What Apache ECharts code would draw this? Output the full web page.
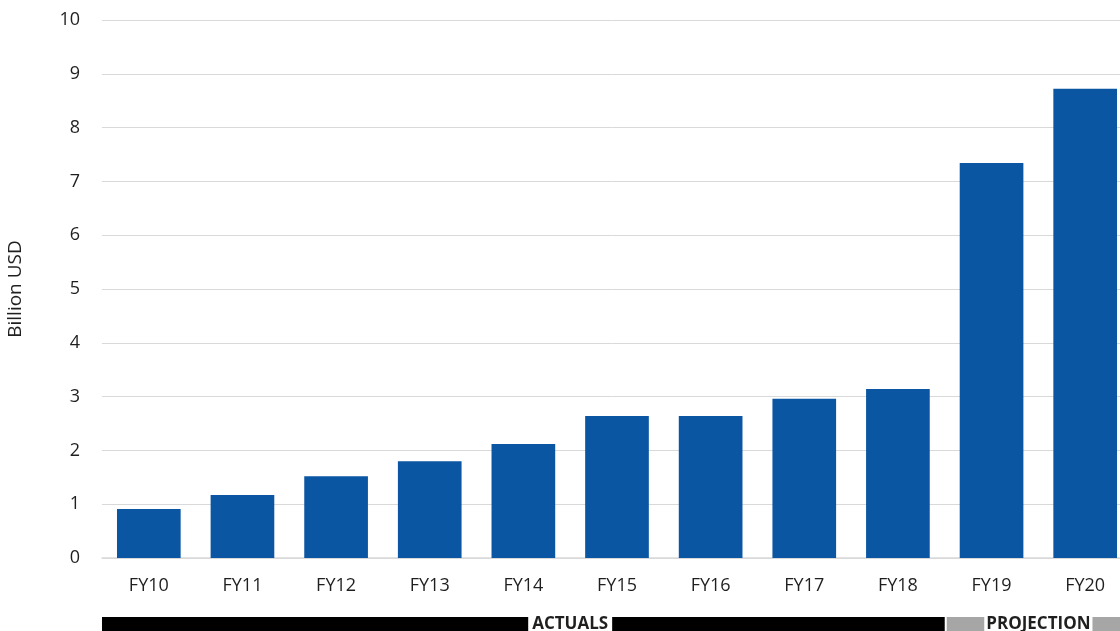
<!DOCTYPE html>
<html>
<head>
<meta charset="utf-8">
<script src="https://cdn.jsdelivr.net/npm/echarts@6/dist/echarts.min.js"></script>
<style>
  html, body { margin: 0; padding: 0; background: #fff; }
  #main { width: 1120px; height: 631px; }
</style>
</head>
<body>
<div id="main"></div>
<script>
// fiscal years and values
var years = ['FY10', 'FY11', 'FY12', 'FY13', 'FY14', 'FY15', 'FY16', 'FY17', 'FY18', 'FY19', 'FY20']
var billions = [0.91, 1.17, 1.52, 1.80, 2.12, 2.64, 2.64, 2.96, 3.14, 7.34, 8.72]
var yTicks = [0, 10, 1] // min, max, step
// bands under the axis: label, first category index, last index, colour
var bandNames = ['ACTUALS', 'PROJECTION']
var bandFrom = [0, 9]
var bandTo = [8, 10]
var bandColors = ['#000000', '#a6a6a6']

var font = "'Open Sans', 'Liberation Sans', sans-serif"
var myChart = echarts.init(document.getElementById('main'))

var option = {
  animation: false,
  grid: { left: 102, right: -12, top: 20, bottom: 73, outerBoundsMode: 'none', containLabel: false },
  xAxis: {
    type: 'category',
    data: years,
    axisLine: { lineStyle: { color: '#d9d9d9', width: 1.5 } },
    axisTick: { show: false },
    axisLabel: { color: '#1f1f1f', fontSize: 18, fontFamily: font, margin: 19 }
  },
  yAxis: {
    type: 'value',
    min: yTicks[0],
    max: yTicks[1],
    interval: yTicks[2],
    name: 'Billion USD',
    nameLocation: 'middle',
    nameGap: 77,
    nameTextStyle: { color: '#1f1f1f', fontSize: 19, fontFamily: font },
    axisLabel: { color: '#1f1f1f', fontSize: 18, fontFamily: font, margin: 22 },
    splitLine: { lineStyle: { color: '#d9d9d9', width: 1 } }
  },
  series: [
    {
      type: 'bar',
      data: billions,
      barCategoryGap: '32%',
      itemStyle: { color: '#0a56a3' }
    }
  ]
}
myChart.setOption(option)

// draw the actuals / projection bands from the axis positions
var p0 = myChart.convertToPixel({ xAxisIndex: 0 }, 0)
var p1 = myChart.convertToPixel({ xAxisIndex: 0 }, 1)
var step = p1 - p0
var bandY = 617
var elements = []
for (var i = 0; i < bandNames.length; i++) {
  var x1 = p0 - step / 2 + bandFrom[i] * step
  var x2 = p0 + step / 2 + bandTo[i] * step
  if (i > 0) x1 += 2
  elements.push({
    type: 'rect',
    shape: { x: x1, y: bandY, width: x2 - x1, height: 16 },
    style: { fill: bandColors[i] }
  })
  // label centered on a category boundary near the middle of the band
  var mid = i === 0 ? p0 - step / 2 + 5 * step : p0 - step / 2 + 10 * step
  elements.push({
    type: 'text',
    x: mid,
    y: bandY - 1,
    z: 10,
    style: {
      text: bandNames[i],
      fill: '#1f1f1f',
      backgroundColor: '#fff',
      padding: i === 0 ? [0, 4, 0, 4] : [0, 2, 0, 2],
      font: 'bold 17px ' + font,
      align: 'center',
      verticalAlign: 'top'
    }
  })
}
myChart.setOption({ graphic: elements })
</script>
</body>
</html>
